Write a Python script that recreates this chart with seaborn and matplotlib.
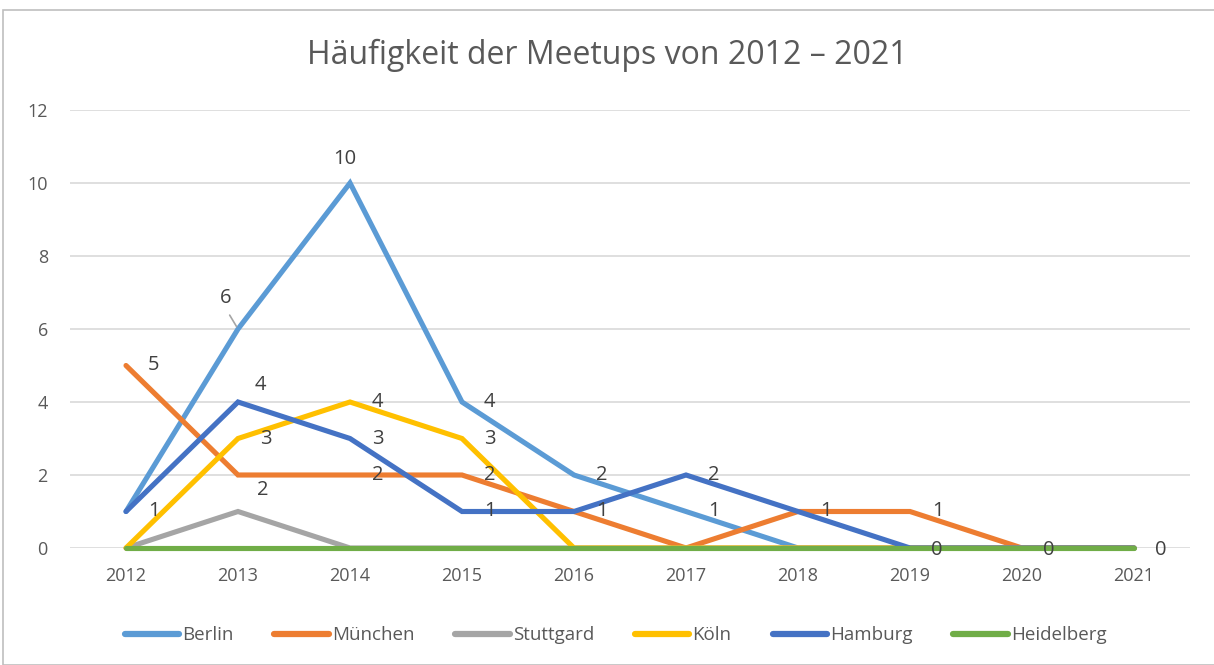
import matplotlib
matplotlib.use("Agg")
import matplotlib.pyplot as plt
import seaborn as sns
import pandas as pd
from matplotlib.patches import Rectangle

years = [2012, 2013, 2014, 2015, 2016, 2017, 2018, 2019, 2020, 2021]
berlin = [1, 6, 10, 4, 2, 1, 0, 0, 0, 0]
muenchen = [5, 2, 2, 2, 1, 0, 1, 1, 0, 0]
stuttgard = [0, 1, 0, 0, 0, 0, 0, 0, 0, 0]
koeln = [0, 3, 4, 3, 0, 0, 0, 0, 0, 0]
hamburg = [1, 4, 3, 1, 1, 2, 1, 0, 0, 0]
heidelberg = [0, 0, 0, 0, 0, 0, 0, 0, 0, 0]

series_names = ["Berlin", "München", "Stuttgard", "Köln", "Hamburg", "Heidelberg"]
series_values = [berlin, muenchen, stuttgard, koeln, hamburg, heidelberg]
colors = ["#5B9BD5", "#ED7D31", "#A5A5A5", "#FFC000", "#4472C4", "#70AD47"]

title = "Häufigkeit der Meetups von 2012 – 2021"

rows = []
for name, vals in zip(series_names, series_values):
    for i, (y, v) in enumerate(zip(years, vals)):
        rows.append({"idx": i, "Jahr": str(y), "Stadt": name, "Wert": v})
df = pd.DataFrame(rows)

# Data labels shown in the chart: (series, year)
label_points = [
    ("München", 2012), ("Berlin", 2012),
    ("Berlin", 2013), ("Berlin", 2014), ("Hamburg", 2013), ("Köln", 2013), ("München", 2013),
    ("Köln", 2014), ("Hamburg", 2014), ("München", 2014),
    ("Berlin", 2015), ("Köln", 2015), ("München", 2015), ("Hamburg", 2015),
    ("Berlin", 2016), ("Hamburg", 2016),
    ("Hamburg", 2017), ("Berlin", 2017),
    ("Hamburg", 2018), ("München", 2019),
    ("Hamburg", 2019), ("Hamburg", 2020), ("Hamburg", 2021),
]
# per-label offsets in points (style)
label_offsets = {
    ("Berlin", 2013): (-9, 22),
    ("Berlin", 2014): (-4, 17),
    ("Hamburg", 2013): (16, 12),
    ("München", 2013): (18, -11),
    ("Hamburg", 2019): (19, -1.5),
    ("Hamburg", 2020): (19, -1.5),
    ("Hamburg", 2021): (19, -1.5),
}

sns.set_theme(style="white")
plt.rcParams["font.family"] = ["Open Sans", "DejaVu Sans"]

fig = plt.figure(figsize=(12.14, 6.65), dpi=100)
ax = fig.add_axes([70 / 1214, 1 - 548 / 665, (1190 - 70) / 1214, (548 - 110) / 665])

for name, col in zip(series_names, colors):
    sub = df[df["Stadt"] == name]
    sns.lineplot(data=sub, x="idx", y="Wert", color=col, linewidth=3.7,
                 ax=ax, label=name, solid_capstyle="round", solid_joinstyle="miter",
                 clip_on=False)

ax.set_xlim(-0.5, len(years) - 0.5)
ax.set_ylim(0, 12)
ax.set_xticks(range(len(years)))
ax.set_xticklabels([str(y) for y in years])
ax.set_yticks(range(0, 13, 2))
ax.yaxis.grid(True, color="#D9D9D9", linewidth=1.2)
ax.set_axisbelow(True)
for s in ax.spines.values():
    s.set_visible(False)
ax.set_xlabel("")
ax.set_ylabel("")
ax.tick_params(axis="both", colors="#595959", labelsize=13, length=0)
ax.tick_params(axis="x", pad=14)
ax.tick_params(axis="y", pad=16)

lookup = {n: v for n, v in zip(series_names, series_values)}
for name, yr in label_points:
    i = years.index(yr)
    v = lookup[name][i]
    dx, dy = label_offsets.get((name, yr), (20, 0))
    ax.annotate(str(v), xy=(i, v), xytext=(dx, dy), textcoords="offset points",
                ha="center", va="center", fontsize=14.5, color="#404040",
                annotation_clip=False)
# leader line for label "6"
ax.annotate("", xy=(1, 6), xytext=(-6, 10), textcoords="offset points",
            xycoords="data",
            arrowprops=dict(arrowstyle="-", color="#A5A5A5", lw=1.2, shrinkA=0, shrinkB=2))

leg = ax.legend(loc="upper center", bbox_to_anchor=(0.487, -0.14), ncol=6, frameon=False,
                fontsize=13.5, handlelength=2.9, handletextpad=0.15, columnspacing=2.2)
for t in leg.get_texts():
    t.set_color("#595959")
for h in leg.get_lines():
    h.set_linewidth(4.5)
    h.set_solid_capstyle("round")

fig.text(0.5, 1 - 55 / 665, title, ha="center", va="center", fontsize=23, color="#595959")

fig.patches.append(Rectangle((3 / 1214, 0.0), 1.2, 1 - 10 / 665 - 0.0, transform=fig.transFigure,
                             fill=False, edgecolor="#BFBFBF", linewidth=1.2))

fig.savefig("out.png", dpi=100)
